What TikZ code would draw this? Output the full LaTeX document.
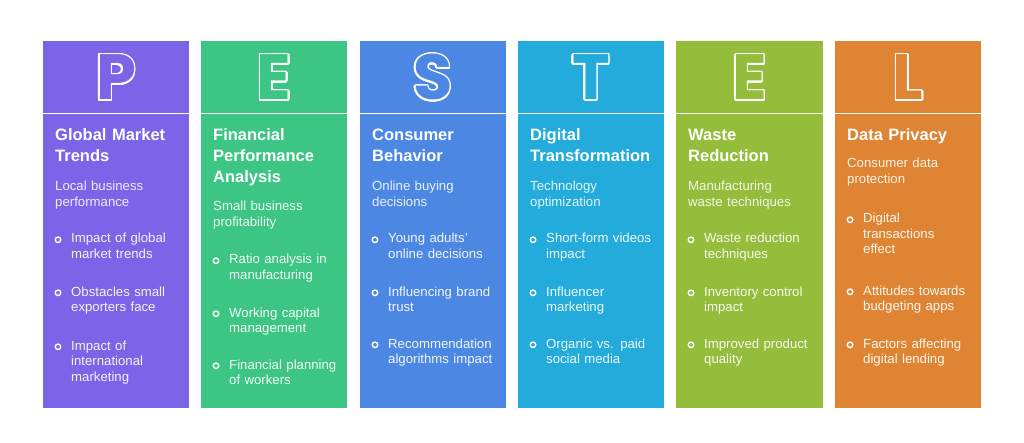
\documentclass[tikz,border=0pt]{standalone}
\usepackage{fontspec}
\setmainfont{Liberation Sans}
\newfontfamily\letterfont{Poppins}
\usepackage{tikz}
\usetikzlibrary{calc,positioning}
\definecolor{colP}{HTML}{7B64E7}
\definecolor{colEa}{HTML}{3DC584}
\definecolor{colS}{HTML}{4C87E4}
\definecolor{colT}{HTML}{22ABDB}
\definecolor{colEb}{HTML}{93BD3A}
\definecolor{colL}{HTML}{DE8432}

\begin{document}
\begin{tikzpicture}[x=1pt,y=-1pt,
letter/.style={font=\letterfont\bfseries\fontsize{64}{64}\selectfont,inner sep=0,anchor=base},
title/.style={font=\bfseries\fontsize{16.5}{21}\selectfont,text=white,inner sep=0,anchor=base west,text width=135,align=left},
sub/.style={font=\fontsize{13.2}{15.5}\selectfont,text=white,text opacity=0.88,inner sep=0,anchor=base west,text width=135,align=left},
item/.style={font=\fontsize{13.2}{15.5}\selectfont,text=white,text opacity=0.92,inner sep=0,anchor=base west,text width=120,align=left},
dot/.style={circle,draw=white,line width=1.4pt,minimum size=5.5pt,inner sep=0}]
\useasboundingbox (0,0) rectangle (1024,443);

% P
\fill[colP] (43,41) rectangle (189,113);
\fill[colP] (43,114) rectangle (189,408);
\foreach \a in {0,22.5,...,337.5}
  \node[letter,text=white] at ($(116,100)+(\a:1.5)$) {P};
\node[letter,text=colP] (letP) at (116,100) {P};
\node[title] (titleP) at (55,141) {Global Market\\Trends};
\node[sub] (subP) at (55,191) {Local business\\performance};
\node[item] (iP1) at (71,243) {Impact of global\\market trends};
\node[item] (iP2) at (71,296) {Obstacles small\\exporters face};
\node[item] (iP3) at (71,350) {Impact of\\international\\marketing};
\foreach \i in {1,2,3}
  \node[dot] (dP\i) at ($(iP\i.base west)+(-13,-3.2)$) {};

% E
\fill[colEa] (201,41) rectangle (347,113);
\fill[colEa] (201,114) rectangle (347,408);
\foreach \a in {0,22.5,...,337.5}
  \node[letter,text=white] at ($(274,100)+(\a:1.5)$) {E};
\node[letter,text=colEa] (letEa) at (274,100) {E};
\node[title] (titleEa) at (213,141) {Financial\\Performance\\Analysis};
\node[sub] (subEa) at (213,211) {Small business\\profitability};
\node[item] (iEa1) at (229,264) {Ratio analysis in\\manufacturing};
\node[item] (iEa2) at (229,317) {Working capital\\management};
\node[item] (iEa3) at (229,369) {Financial planning\\of workers};
\foreach \i in {1,2,3}
  \node[dot] (dEa\i) at ($(iEa\i.base west)+(-13,-3.2)$) {};

% S
\fill[colS] (360,41) rectangle (506,113);
\fill[colS] (360,114) rectangle (506,408);
\foreach \a in {0,22.5,...,337.5}
  \node[letter,text=white] at ($(433,100)+(\a:1.5)$) {S};
\node[letter,text=colS] (letS) at (433,100) {S};
\node[title] (titleS) at (372,141) {Consumer\\Behavior};
\node[sub] (subS) at (372,191) {Online buying\\decisions};
\node[item] (iS1) at (388,243) {Young adults'\\online decisions};
\node[item] (iS2) at (388,296) {Influencing brand\\trust};
\node[item] (iS3) at (388,348) {Recommendation\\algorithms impact};
\foreach \i in {1,2,3}
  \node[dot] (dS\i) at ($(iS\i.base west)+(-13,-3.2)$) {};

% T
\fill[colT] (518,41) rectangle (664,113);
\fill[colT] (518,114) rectangle (664,408);
\foreach \a in {0,22.5,...,337.5}
  \node[letter,text=white] at ($(591,100)+(\a:1.5)$) {T};
\node[letter,text=colT] (letT) at (591,100) {T};
\node[title] (titleT) at (530,141) {Digital\\Transformation};
\node[sub] (subT) at (530,191) {Technology\\optimization};
\node[item] (iT1) at (546,243) {Short-form videos\\impact};
\node[item] (iT2) at (546,296) {Influencer\\marketing};
\node[item] (iT3) at (546,348) {Organic vs. paid\\social media};
\foreach \i in {1,2,3}
  \node[dot] (dT\i) at ($(iT\i.base west)+(-13,-3.2)$) {};

% E
\fill[colEb] (676,41) rectangle (823,113);
\fill[colEb] (676,114) rectangle (823,408);
\foreach \a in {0,22.5,...,337.5}
  \node[letter,text=white] at ($(749.5,100)+(\a:1.5)$) {E};
\node[letter,text=colEb] (letEb) at (749.5,100) {E};
\node[title] (titleEb) at (688,141) {Waste\\Reduction};
\node[sub] (subEb) at (688,191) {Manufacturing\\waste techniques};
\node[item] (iEb1) at (704,243) {Waste reduction\\techniques};
\node[item] (iEb2) at (704,296) {Inventory control\\impact};
\node[item] (iEb3) at (704,348) {Improved product\\quality};
\foreach \i in {1,2,3}
  \node[dot] (dEb\i) at ($(iEb\i.base west)+(-13,-3.2)$) {};

% L
\fill[colL] (835,41) rectangle (981,113);
\fill[colL] (835,114) rectangle (981,408);
\foreach \a in {0,22.5,...,337.5}
  \node[letter,text=white] at ($(908,100)+(\a:1.5)$) {L};
\node[letter,text=colL] (letL) at (908,100) {L};
\node[title] (titleL) at (847,141) {Data Privacy};
\node[sub] (subL) at (847,168) {Consumer data\\protection};
\node[item] (iL1) at (863,223) {Digital\\transactions\\effect};
\node[item] (iL2) at (863,295) {Attitudes towards\\budgeting apps};
\node[item] (iL3) at (863,348) {Factors affecting\\digital lending};
\foreach \i in {1,2,3}
  \node[dot] (dL\i) at ($(iL\i.base west)+(-13,-3.2)$) {};

\end{tikzpicture}
\end{document}
